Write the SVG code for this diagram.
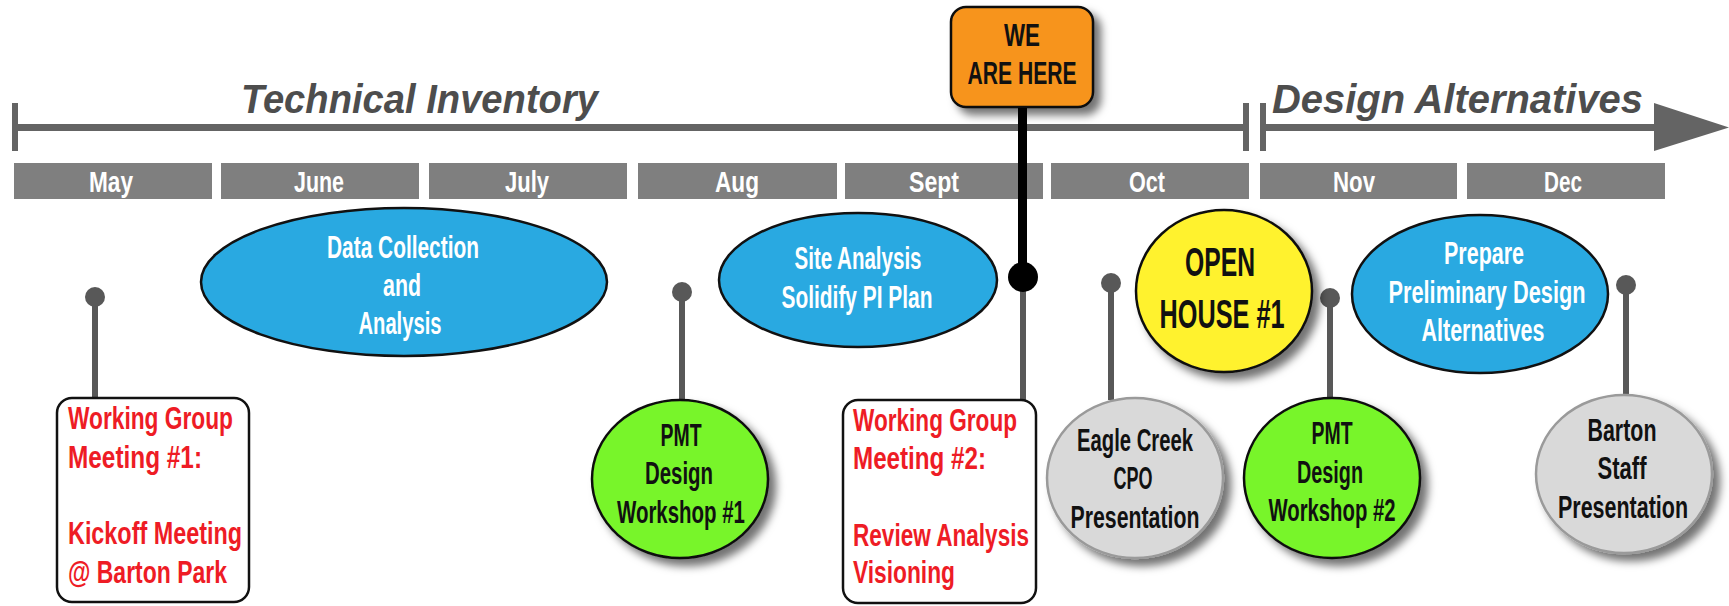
<svg xmlns="http://www.w3.org/2000/svg" width="1729" height="606" viewBox="0 0 1729 606">
<defs>
<filter id="sh" x="-20%" y="-20%" width="150%" height="150%">
<feDropShadow dx="7" dy="7" stdDeviation="4" flood-color="#000" flood-opacity="0.55"/>
</filter>
<style>
text{font-family:"Liberation Sans Narrow","Liberation Sans",Arial,sans-serif;font-weight:bold;}
.t{font-size:40px;font-style:italic;fill:#4d4d4d;}
.m{font-size:30px;fill:#ffffff;text-anchor:middle;}
.mb{fill:#7f7f7f;}
.tl{fill:#646464;}
.r{font-size:31px;fill:#ee1c25;}
.w{font-size:31px;fill:#ffffff;text-anchor:middle;}
.k{font-size:31px;fill:#111111;text-anchor:middle;}
.box{fill:#ffffff;stroke:#111;stroke-width:2.5;}
.blue{fill:#29a9e1;stroke:#111;stroke-width:2.5;}
.green{fill:#78f52b;stroke:#111;stroke-width:2.5;}
.gray{fill:#d9d9d9;stroke:#9a9a9a;stroke-width:2.5;}
.stem{stroke:#585858;stroke-width:6;}
.dot{fill:#585858;}
</style>
</defs>
<rect width="1729" height="606" fill="#ffffff"/>

<g id="timeline">
<rect class="tl" x="12" y="103" width="6" height="48"/>
<rect class="tl" x="12" y="124" width="1234" height="7"/>
<rect class="tl" x="1243" y="103" width="6" height="48"/>
<rect class="tl" x="1260" y="103" width="6" height="48"/>
<rect class="tl" x="1260" y="124" width="400" height="7"/>
<polygon class="tl" points="1654,103 1729,127.5 1654,151"/>
<text class="t" x="241" y="113" textLength="357" lengthAdjust="spacingAndGlyphs">Technical Inventory</text>
<text class="t" x="1272" y="113" textLength="371" lengthAdjust="spacingAndGlyphs">Design Alternatives</text>
</g>

<g id="months">
<rect class="mb" x="14" y="163" width="198" height="36"/>
<rect class="mb" x="221" y="163" width="198" height="36"/>
<rect class="mb" x="429" y="163" width="198" height="36"/>
<rect class="mb" x="638" y="163" width="199" height="36"/>
<rect class="mb" x="845" y="163" width="198" height="36"/>
<rect class="mb" x="1051" y="163" width="198" height="36"/>
<rect class="mb" x="1260" y="163" width="197" height="36"/>
<rect class="mb" x="1467" y="163" width="198" height="36"/>
<text class="m" x="111" y="192" textLength="44" lengthAdjust="spacingAndGlyphs">May</text>
<text class="m" x="319" y="192" textLength="50" lengthAdjust="spacingAndGlyphs">June</text>
<text class="m" x="527" y="192" textLength="44" lengthAdjust="spacingAndGlyphs">July</text>
<text class="m" x="737" y="192" textLength="44" lengthAdjust="spacingAndGlyphs">Aug</text>
<text class="m" x="934" y="192" textLength="50" lengthAdjust="spacingAndGlyphs">Sept</text>
<text class="m" x="1147" y="192" textLength="36" lengthAdjust="spacingAndGlyphs">Oct</text>
<text class="m" x="1354" y="192" textLength="42" lengthAdjust="spacingAndGlyphs">Nov</text>
<text class="m" x="1563" y="192" textLength="38" lengthAdjust="spacingAndGlyphs">Dec</text>
</g>

<g id="connectors">
<line class="stem" x1="95" y1="297" x2="95" y2="399"/>
<circle class="dot" cx="95" cy="297" r="10"/>
<line class="stem" x1="682" y1="292" x2="682" y2="401"/>
<circle class="dot" cx="682" cy="292" r="10"/>
<line class="stem" x1="1023" y1="277" x2="1023" y2="401"/>
<line x1="1022.5" y1="100" x2="1022.5" y2="277" stroke="#000" stroke-width="9"/>
<circle cx="1023" cy="277" r="15" fill="#000"/>
<line class="stem" x1="1111" y1="283" x2="1111" y2="400"/>
<circle class="dot" cx="1111" cy="283" r="10"/>
<line class="stem" x1="1330" y1="298" x2="1330" y2="400"/>
<circle class="dot" cx="1330" cy="298" r="10"/>
<line class="stem" x1="1626" y1="285" x2="1626" y2="396"/>
<circle class="dot" cx="1626" cy="285" r="10"/>
</g>

<g id="we-are-here">
<rect x="951" y="7" width="142" height="100" rx="15" fill="#f7941d" stroke="#111" stroke-width="2.5" filter="url(#sh)"/>
<text class="k" x="1022" y="46" style="font-size:32px" textLength="36" lengthAdjust="spacingAndGlyphs">WE</text>
<text class="k" x="1022" y="84" style="font-size:32px" textLength="109" lengthAdjust="spacingAndGlyphs">ARE HERE</text>
</g>

<g id="data-collection">
<ellipse class="blue" cx="404" cy="282" rx="203" ry="74"/>
<text class="w" x="403" y="258" textLength="152" lengthAdjust="spacingAndGlyphs">Data Collection</text>
<text class="w" x="402" y="296" textLength="38" lengthAdjust="spacingAndGlyphs">and</text>
<text class="w" x="400" y="334" textLength="83" lengthAdjust="spacingAndGlyphs">Analysis</text>
</g>

<g id="site-analysis">
<ellipse class="blue" cx="858" cy="280" rx="139" ry="67"/>
<text class="w" x="858" y="269" textLength="127" lengthAdjust="spacingAndGlyphs">Site Analysis</text>
<text class="w" x="857" y="308" textLength="151" lengthAdjust="spacingAndGlyphs">Solidify PI Plan</text>
</g>

<g id="prepare">
<ellipse class="blue" cx="1480" cy="294" rx="128" ry="79"/>
<text class="w" x="1484" y="264" textLength="80" lengthAdjust="spacingAndGlyphs">Prepare</text>
<text class="w" x="1487" y="303" textLength="197" lengthAdjust="spacingAndGlyphs">Preliminary  Design</text>
<text class="w" x="1483" y="341" textLength="123" lengthAdjust="spacingAndGlyphs">Alternatives</text>
</g>

<g id="wg1">
<rect class="box" x="57" y="398" width="192" height="204" rx="15"/>
<text class="r" x="68" y="429" textLength="165" lengthAdjust="spacingAndGlyphs">Working Group</text>
<text class="r" x="68" y="468" textLength="134" lengthAdjust="spacingAndGlyphs">Meeting #1:</text>
<text class="r" x="68" y="544" textLength="174" lengthAdjust="spacingAndGlyphs">Kickoff Meeting</text>
<text class="r" x="68" y="583" textLength="159" lengthAdjust="spacingAndGlyphs">@ Barton Park</text>
</g>

<g id="wg2">
<rect class="box" x="843" y="400" width="193" height="203" rx="15"/>
<text class="r" x="853" y="431" textLength="164" lengthAdjust="spacingAndGlyphs">Working Group</text>
<text class="r" x="853" y="469" textLength="133" lengthAdjust="spacingAndGlyphs">Meeting #2:</text>
<text class="r" x="853" y="546" textLength="176" lengthAdjust="spacingAndGlyphs">Review Analysis</text>
<text class="r" x="853" y="583" textLength="102" lengthAdjust="spacingAndGlyphs">Visioning</text>
</g>

<g id="pmt1">
<ellipse class="green" cx="680" cy="479" rx="88" ry="79" filter="url(#sh)"/>
<text class="k" x="681" y="446" textLength="41" lengthAdjust="spacingAndGlyphs">PMT</text>
<text class="k" x="679" y="484" textLength="68" lengthAdjust="spacingAndGlyphs">Design</text>
<text class="k" x="681" y="523" textLength="128" lengthAdjust="spacingAndGlyphs">Workshop #1</text>
</g>

<g id="open-house">
<ellipse cx="1224" cy="291" rx="88" ry="81" fill="#fff22d" stroke="#111" stroke-width="2.5" filter="url(#sh)"/>
<text class="k" x="1220" y="276" style="font-size:40px" textLength="70" lengthAdjust="spacingAndGlyphs">OPEN</text>
<text class="k" x="1222" y="328" style="font-size:40px" textLength="125" lengthAdjust="spacingAndGlyphs">HOUSE #1</text>
</g>

<g id="eagle-creek">
<ellipse class="gray" cx="1135" cy="478" rx="88" ry="80" filter="url(#sh)"/>
<text class="k" x="1135" y="451" textLength="116" lengthAdjust="spacingAndGlyphs">Eagle Creek</text>
<text class="k" x="1133" y="489" textLength="39" lengthAdjust="spacingAndGlyphs">CPO</text>
<text class="k" x="1135" y="528" textLength="129" lengthAdjust="spacingAndGlyphs">Presentation</text>
</g>

<g id="pmt2">
<ellipse class="green" cx="1332" cy="478" rx="88" ry="80" filter="url(#sh)"/>
<text class="k" x="1332" y="444" textLength="41" lengthAdjust="spacingAndGlyphs">PMT</text>
<text class="k" x="1330" y="483" textLength="66" lengthAdjust="spacingAndGlyphs">Design</text>
<text class="k" x="1332" y="521" textLength="127" lengthAdjust="spacingAndGlyphs">Workshop #2</text>
</g>

<g id="barton">
<ellipse class="gray" cx="1624" cy="474" rx="88" ry="79" filter="url(#sh)"/>
<text class="k" x="1622" y="441" textLength="69" lengthAdjust="spacingAndGlyphs">Barton</text>
<text class="k" x="1622" y="479" textLength="49" lengthAdjust="spacingAndGlyphs">Staff</text>
<text class="k" x="1623" y="518" textLength="130" lengthAdjust="spacingAndGlyphs">Presentation</text>
</g>
</svg>
